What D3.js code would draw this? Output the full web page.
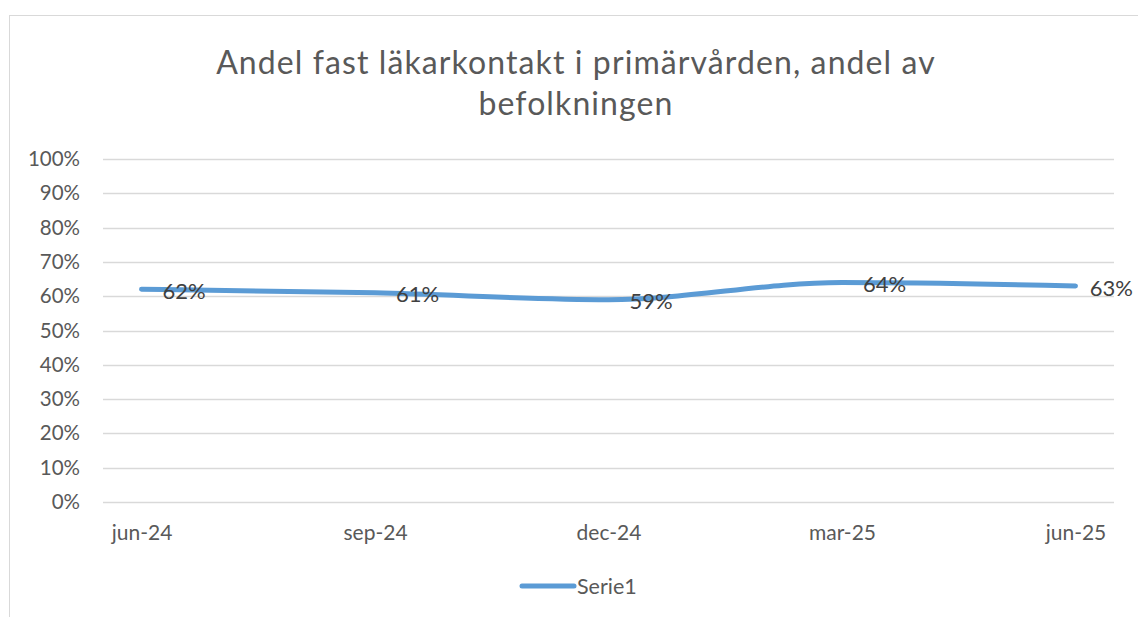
<!DOCTYPE html>
<html>
<head>
<meta charset="utf-8">
<script src="https://cdn.jsdelivr.net/npm/d3@7"></script>
<style>
  body { margin: 0; background: #fff; }
  text { font-family: Lato, "Open Sans", sans-serif; }
</style>
</head>
<body>
<div id="app"></div>
<script>
const categories = ['jun-24', 'sep-24', 'dec-24', 'mar-25', 'jun-25'];
const values = [0.62, 0.61, 0.59, 0.64, 0.63];
const yTicks = [0, 0.1, 0.2, 0.3, 0.4, 0.5, 0.6, 0.7, 0.8, 0.9, 1];
const titleLines = ['Andel fast läkarkontakt i primärvården, andel av', 'befolkningen'];
const seriesName = 'Serie1';

const width = 1138;
const height = 617;
const margin = { top: 159, right: 24, bottom: 115, left: 103 };
const plotW = width - margin.left - margin.right;
const plotH = height - margin.top - margin.bottom;

const svg = d3.select('#app').append('svg')
  .attr('width', width)
  .attr('height', height);

// chart frame
svg.append('rect')
  .attr('x', 9.5)
  .attr('y', 15.5)
  .attr('width', width + 20)
  .attr('height', height + 20)
  .attr('fill', 'none')
  .attr('stroke', '#d9d9d9');

svg.append('text')
  .attr('text-anchor', 'middle')
  .attr('fill', '#595959')
  .style('font-size', '32px')
  .style('letter-spacing', '1.1px')
  .selectAll('tspan')
  .data(titleLines)
  .enter()
  .append('tspan')
  .attr('x', 576)
  .attr('y', (d, i) => 74 + i * 41)
  .text(d => d);

const xScale = d3.scalePoint()
  .domain(categories)
  .range([0, plotW])
  .padding(0.165);

const yScale = d3.scaleLinear()
  .domain([0, 1])
  .range([plotH, 0]);

const g = svg.append('g')
  .attr('transform', 'translate(' + margin.left + ',' + margin.top + ')');

// gridlines
g.append('g')
  .selectAll('line')
  .data(yTicks)
  .enter()
  .append('line')
  .attr('x1', 0)
  .attr('x2', plotW)
  .attr('y1', d => Math.round(yScale(d)) + 0.5)
  .attr('y2', d => Math.round(yScale(d)) + 0.5)
  .attr('stroke', '#d9d9d9')
  .attr('stroke-width', 1.5);

const yAxis = g.append('g')
  .attr('transform', 'translate(-23,0)')
  .call(d3.axisLeft(yScale).tickValues(yTicks).tickFormat(d3.format('.0%')).tickSize(0).tickPadding(0));
yAxis.select('.domain').remove();
yAxis.selectAll('text')
  .attr('fill', '#595959')
  .style('font-size', '20.5px')
  .style('font-family', 'Lato, sans-serif');

const xAxis = g.append('g')
  .attr('transform', 'translate(0,' + (plotH + 23) + ')')
  .call(d3.axisBottom(xScale).tickSize(0).tickPadding(0));
xAxis.select('.domain').remove();
xAxis.selectAll('text')
  .attr('fill', '#595959')
  .style('font-size', '21px')
  .style('font-family', 'Lato, sans-serif');

const line = d3.line()
  .x((d, i) => xScale(categories[i]))
  .y(d => yScale(d))
  .curve(d3.curveMonotoneX);

g.append('path')
  .datum(values)
  .attr('d', line)
  .attr('fill', 'none')
  .attr('stroke', '#5b9bd5')
  .attr('stroke-width', 5)
  .attr('stroke-linecap', 'round')
  .attr('stroke-linejoin', 'round');

// data labels to the right of each point, kept inside the chart area
const maxRight = width - 5 - margin.left;
g.append('g')
  .selectAll('text')
  .data(values)
  .enter()
  .append('text')
  .attr('y', d => yScale(d) + 2)
  .attr('dy', '0.35em')
  .attr('fill', '#404040')
  .style('font-size', '22px')
  .text(d => d3.format('.0%')(d))
  .attr('x', function(d, i) {
    const w = this.getComputedTextLength();
    return Math.min(xScale(categories[i]) + 21, maxRight - w);
  });

// legend
const legend = svg.append('g')
  .attr('transform', 'translate(522,586)');
legend.append('line')
  .attr('x1', 0)
  .attr('x2', 52)
  .attr('stroke', '#5b9bd5')
  .attr('stroke-width', 5)
  .attr('stroke-linecap', 'round');
legend.append('text')
  .attr('x', 55)
  .attr('dy', '0.35em')
  .attr('fill', '#595959')
  .style('font-size', '21.5px')
  .text(seriesName);
</script>
</body>
</html>
